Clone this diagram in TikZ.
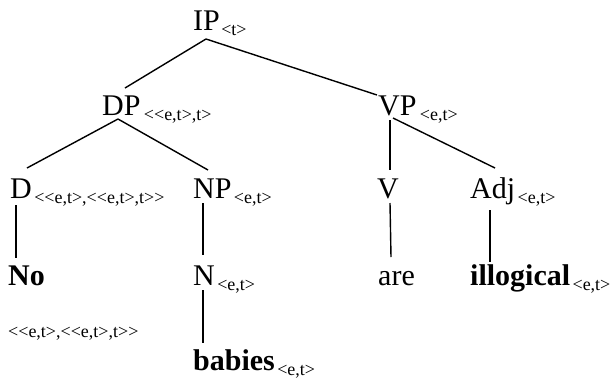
\documentclass[tikz,border=0pt]{standalone}
\usepackage{fontspec}
\setmainfont{Liberation Serif}
\newcommand\myLt{<\kern0pt}
\newcommand\myGt{>\kern0pt}
\begin{document}
\begin{tikzpicture}[x=1pt,y=1pt,
  cat/.style={inner sep=0pt, anchor=base west, font=\fontsize{30}{30}\selectfont},
  word/.style={inner sep=0pt, anchor=base west, font=\fontsize{30}{30}\selectfont\bfseries},
  typ/.style={inner sep=0pt, anchor=base west, font=\fontsize{18}{18}\selectfont},
  edge/.style={line width=1.4pt}]
\useasboundingbox (0,0) rectangle (610,-381);
% categories
\node[cat] (IP) at (193,-30) {IP};
\node[typ] (IPt) at ([shift={(1,-5)}]IP.base east) {<t>};
\node[cat] (DP) at (102,-115) {DP};
\node[typ] (DPt) at ([shift={(3,-5)}]DP.base east) {\myLt<e,t>,t>};
\node[cat] (VP) at (378,-115) {VP};
\node[typ] (VPt) at ([shift={(3,-5)}]VP.base east) {<e,t>};
\node[cat] (D) at (10,-198) {D};
\node[typ] (Dt) at ([shift={(2,-5)}]D.base east) {\myLt<e,t>,\myLt<e,t>,t\myGt>};
\node[cat] (NP) at (193,-198) {NP};
\node[typ] (NPt) at ([shift={(2,-5)}]NP.base east) {<e,t>};
\node[cat] (V) at (377,-198) {V};
\node[cat] (Adj) at (470,-198) {Adj};
\node[typ] (Adjt) at ([shift={(2,-5)}]Adj.base east) {<e,t>};
\node[word] (No) at (8,-285) {No};
\node[cat] (N) at (193,-285) {N};
\node[typ] (Nt) at ([shift={(2,-5)}]N.base east) {<e,t>};
\node[cat] (are) at (378,-285) {are};
\node[word] (ill) at (470,-285) {illogical};
\node[typ] (illt) at ([shift={(2,-5)}]ill.base east) {<e,t>};
\node[word] (bab) at (193,-370) {babies};
\node[typ] (babt) at ([shift={(2,-5)}]bab.base east) {<e,t>};
\node[typ] (NoT) at (8,-337) {\myLt<e,t>,\myLt<e,t>,t\myGt>};
% edges
\draw[edge] ([shift={(13,-9)}]IP.base west) -- ([shift={(23,27)}]DP.base west);
\draw[edge] ([shift={(13,-9)}]IP.base west) -- ([shift={(-1,20)}]VP.base west);
\draw[edge] ([shift={(16,-4)}]DP.base west) -- ([shift={(17,30)}]D.base west);
\draw[edge] ([shift={(16,-4)}]DP.base west) -- ([shift={(15,28)}]NP.base west);
\draw[edge] ([shift={(12,-5)}]VP.base west) -- ([shift={(13,28)}]V.base west);
\draw[edge] ([shift={(15,-3)}]VP.base west) -- ([shift={(25,30)}]Adj.base west);
\draw[edge] ([shift={(6,-7)}]D.base west) -- ([shift={(8,27)}]No.base west);
\draw[edge] ([shift={(10,-5)}]NP.base west) -- ([shift={(10,30)}]N.base west);
\draw[edge] ([shift={(13,-5)}]V.base west) -- ([shift={(13,28)}]are.base west);
\draw[edge] ([shift={(20,-12)}]Adj.base west) -- ([shift={(20,23)}]ill.base west);
\draw[edge] ([shift={(10,-5)}]N.base west) -- ([shift={(10,27)}]bab.base west);
\end{tikzpicture}
\end{document}
